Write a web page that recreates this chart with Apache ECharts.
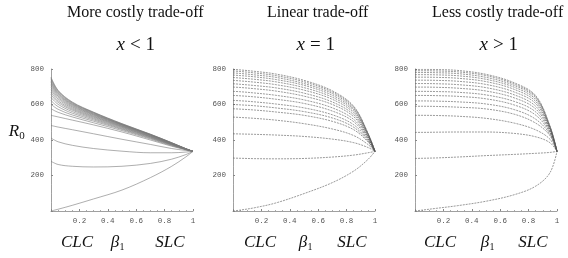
<!DOCTYPE html>
<html>
<head>
<meta charset="utf-8">
<script src="https://cdn.jsdelivr.net/npm/echarts@6.0.0/dist/echarts.min.js"></script>
<style>
html, body { margin: 0; padding: 0; background: #fff; }
#container { width: 568px; height: 258px; }
</style>
</head>
<body>
<div id="container"></div>
<script>
// beta1 sample points shared by every curve
var BETA = [0, 0.05, 0.15, 0.3, 0.5, 0.7, 0.85, 0.95, 1];
var X_TICKS = [0.2, 0.4, 0.6, 0.8, 1];
var Y_TICKS = [200, 400, 600, 800];
var TITLES = ['More costly trade-off', 'Linear trade-off', 'Less costly trade-off'];
var CASES = ['< 1', '= 1', '> 1'];

// R0 values, one row per curve (bottom to top)
var COSTLY = [
    [0, 10, 32, 68, 118, 188, 252, 305, 336],
    [280, 262, 252, 248, 252, 268, 292, 318, 336],
    [411, 390, 370, 352, 337, 328, 328, 332, 336],
    [482, 473, 458, 435, 404, 375, 352, 341, 336],
    [539, 530, 512, 485, 445, 400, 365, 345, 336],
    [576, 556, 530, 497, 453, 406, 368, 346, 336],
    [601, 573, 541, 506, 459, 410, 371, 347, 336],
    [622, 588, 551, 513, 463, 413, 373, 347, 336],
    [640, 601, 560, 519, 467, 416, 374, 348, 336],
    [656, 612, 568, 524, 471, 418, 376, 348, 336],
    [670, 621, 574, 529, 474, 420, 377, 349, 336],
    [683, 631, 580, 533, 477, 422, 378, 349, 336],
    [695, 639, 586, 537, 479, 424, 380, 349, 336],
    [706, 647, 591, 541, 482, 426, 381, 350, 336],
    [716, 654, 596, 544, 484, 427, 382, 350, 336],
    [725, 660, 600, 547, 486, 429, 382, 350, 336],
    [733, 665, 604, 550, 487, 430, 383, 350, 336],
    [741, 671, 608, 553, 489, 431, 384, 351, 336],
    [748, 676, 611, 555, 491, 432, 384, 351, 336],
    [754, 680, 614, 557, 492, 433, 385, 351, 336]
];
var LINEAR = [
    [0, 5, 18, 45, 98, 160, 225, 290, 336],
    [298, 297, 295, 294, 296, 304, 315, 328, 336],
    [435, 434, 432, 428, 420, 405, 385, 358, 336],
    [529, 527, 522, 512, 492, 462, 425, 375, 336],
    [576, 574, 569, 558, 539, 505, 458, 390, 336],
    [600, 598, 593, 581, 560, 524, 472, 395, 336],
    [623, 621, 615, 603, 581, 542, 486, 401, 336],
    [651, 649, 643, 630, 606, 563, 503, 407, 336],
    [674, 672, 665, 652, 626, 581, 516, 412, 336],
    [698, 696, 689, 676, 647, 600, 531, 418, 336],
    [717, 714, 707, 694, 664, 614, 542, 422, 336],
    [736, 733, 726, 712, 681, 629, 553, 426, 336],
    [752, 749, 742, 728, 695, 641, 563, 430, 336],
    [766, 763, 756, 741, 708, 652, 571, 433, 336],
    [778, 775, 767, 753, 718, 662, 578, 436, 336],
    [789, 786, 778, 763, 728, 670, 585, 438, 336],
    [798, 795, 787, 772, 736, 677, 590, 440, 336]
];
var LESS_COSTLY = [
    [0, 5, 15, 30, 55, 92, 140, 215, 336],
    [296, 297, 299, 304, 312, 319, 325, 330, 336],
    [443, 443, 444, 445, 445, 437, 418, 385, 336],
    [539, 539, 538, 534, 522, 495, 457, 405, 336],
    [590, 590, 589, 585, 575, 545, 495, 425, 336],
    [620, 620, 619, 615, 603, 571, 517, 433, 336],
    [651, 651, 650, 646, 632, 597, 540, 441, 336],
    [674, 674, 673, 669, 654, 617, 558, 447, 336],
    [698, 698, 697, 692, 676, 637, 575, 454, 336],
    [718, 718, 717, 712, 695, 654, 590, 459, 336],
    [737, 737, 736, 731, 713, 670, 605, 464, 336],
    [754, 754, 753, 748, 729, 685, 617, 468, 336],
    [768, 768, 767, 762, 742, 697, 628, 472, 336],
    [780, 780, 779, 774, 753, 707, 637, 475, 336],
    [790, 790, 789, 784, 763, 715, 644, 478, 336],
    [798, 798, 797, 792, 770, 722, 650, 480, 336]
];

var PANEL_LEFT = [51, 233, 415];

function label(x, y, text, size, italic, align) {
    return {
        type: 'text', x: x, y: y, silent: true,
        style: {
            text: text, fill: '#111',
            fontFamily: 'Liberation Serif', fontSize: size,
            fontStyle: italic ? 'italic' : 'normal',
            align: align || 'center', verticalAlign: 'middle'
        }
    };
}

function initOption() {
    var panels = [COSTLY, LINEAR, LESS_COSTLY];
    var grids = [], xAxes = [], yAxes = [], series = [], graphics = [];
    var tickFont = { fontFamily: 'Liberation Mono', fontSize: 7.5, color: '#555' };

    for (var p = 0; p < 3; p++) {
        grids.push({ left: PANEL_LEFT[p], top: 69, width: 142, height: 142 });
        xAxes.push({
            gridIndex: p, type: 'value', min: 0, max: 1, interval: 0.2,
            axisLine: { lineStyle: { color: '#888', width: 0.8 } },
            axisTick: { show: true, inside: true, length: 2, lineStyle: { color: '#888' } },
            minorTick: { show: true, splitNumber: 4, length: 1, lineStyle: { color: '#aaa' } },
            splitLine: { show: false },
            axisLabel: Object.assign({
                margin: 6,
                formatter: function (v) {
                    var t = Math.round(v * 10) / 10;
                    if (X_TICKS.indexOf(t) < 0) return '';
                    return t === 1 ? '1' : t.toFixed(1);
                }
            }, tickFont)
        });
        yAxes.push({
            gridIndex: p, type: 'value', min: 0, max: 800, interval: 200,
            axisLine: { show: true, lineStyle: { color: '#888', width: 0.8 } },
            axisTick: { show: true, inside: true, length: 2, lineStyle: { color: '#888' } },
            minorTick: { show: true, splitNumber: 4, length: 1, lineStyle: { color: '#aaa' } },
            splitLine: { show: false },
            axisLabel: Object.assign({
                margin: 7,
                formatter: function (v) { return Y_TICKS.indexOf(v) < 0 ? '' : String(v); }
            }, tickFont)
        });

        var curves = panels[p];
        for (var c = 0; c < curves.length; c++) {
            var pts = [];
            for (var k = 0; k < BETA.length; k++) pts.push([BETA[k], curves[c][k]]);
            series.push({
                type: 'line', xAxisIndex: p, yAxisIndex: p, data: pts,
                showSymbol: false, smooth: 0.35, silent: true,
                lineStyle: { color: p === 0 ? '#777' : '#555', width: 0.6, type: p === 0 ? 'solid' : [2, 1] }
            });
        }

        // panel captions
        var mid = [138, 318, 501][p];
        graphics.push(label([67, 267, 432][p], 13, TITLES[p], 16, false, 'left'));
        graphics.push(label(mid - 13, 45, 'x', 19, true, 'right'));
        graphics.push(label(mid - 8, 45, CASES[p], 19, false, 'left'));
        var cx = [[77, 117, 170], [260, 305, 352], [440, 487, 533]][p];
        graphics.push(label(cx[0], 243, 'CLC', 17, true));
        graphics.push(label(cx[1] - 2, 243, 'β', 17, true));
        graphics.push(label(cx[1] + 5, 247, '1', 10, false));
        graphics.push(label(cx[2], 243, 'SLC', 17, true));
    }

    graphics.push(label(14, 132, 'R', 17, true));
    graphics.push(label(22, 136, '0', 11, false));

    return {
        animation: false,
        backgroundColor: '#fff',
        grid: grids, xAxis: xAxes, yAxis: yAxes,
        series: series, graphic: graphics
    };
}

var myChart = echarts.init(document.getElementById('container'), null, { renderer: 'canvas' });
myChart.setOption(initOption());
</script>
</body>
</html>
